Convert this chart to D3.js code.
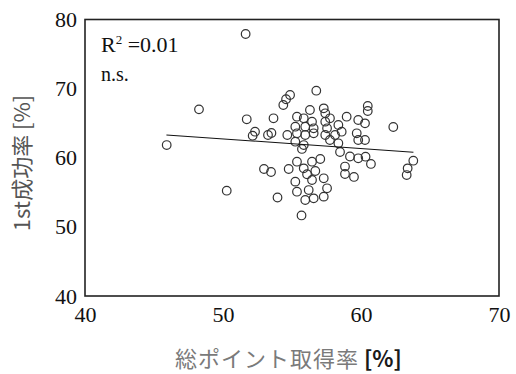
<!DOCTYPE html>
<html>
<head>
<meta charset="utf-8">
<script src="https://cdn.jsdelivr.net/npm/d3@7"></script>
<style>
  body { margin: 0; background: #fff; }
  svg { display: block; }
</style>
</head>
<body>
<div id="chart"></div>
<script>

// Data

const xTicks = [ 40, 50, 60, 70 ];
const yTicks = [ 40, 50, 60, 70, 80 ];

// 総ポイント取得率 [%]
const pointRate = [
  51.64, 48.26, 45.92, 50.27, 51.72, 53.66, 52.32, 52.15, 53.26, 53.51,
  54.37, 54.57, 54.86, 56.76, 55.36, 56.30, 57.30, 57.41, 55.85, 56.45,
  55.24, 55.96, 56.57, 57.41, 57.54, 54.66, 55.36, 55.96, 56.57, 57.41,
  55.24, 55.85, 60.49, 60.49, 58.96, 59.80, 60.29, 58.36, 58.12, 58.60,
  59.69, 59.80, 60.29, 62.34, 57.75, 58.36, 57.75, 55.72, 52.97, 53.48,
  55.36, 56.45, 57.05, 54.76, 55.85, 56.09, 56.69, 55.24, 56.45, 57.30,
  55.36, 56.21, 57.54, 55.96, 56.57, 57.30, 53.95, 55.69, 58.48, 59.20,
  59.80, 60.33, 60.72, 58.84, 58.84, 59.49, 63.79, 63.38, 63.31
];

// 1st成功率 [%]
const firstRate = [
  77.90, 67.00, 61.84, 55.23, 65.56, 65.71, 63.77, 63.19, 63.29, 63.58,
  67.63, 68.46, 69.08, 69.70, 65.94, 66.91, 67.15, 66.43, 65.71, 65.22,
  64.49, 64.49, 64.26, 65.22, 64.26, 63.29, 63.54, 63.29, 63.54, 63.29,
  62.32, 61.84, 67.49, 66.76, 65.94, 65.46, 64.98, 64.74, 63.29, 63.77,
  63.54, 62.57, 62.57, 64.45, 62.57, 62.09, 65.71, 61.27, 58.37, 57.94,
  59.43, 59.43, 59.82, 58.37, 58.47, 57.61, 58.08, 56.54, 56.78, 57.03,
  55.09, 55.33, 55.58, 53.89, 54.13, 54.37, 54.25, 51.65, 60.83, 60.18,
  59.92, 60.15, 59.10, 58.73, 57.65, 57.22, 59.57, 58.47, 57.50
];

// regression line as drawn
const fitX = [ 45.9, 63.8 ];
const fitY = [ 63.3, 60.8 ];

const width = 516,
      height = 374;

const plot = { left: 85, right: 499, top: 19.5, bottom: 296 };

const serif = "'Liberation Serif', 'Times New Roman', serif";
const cjk = "'Noto Sans CJK JP', 'Noto Sans', sans-serif";

const svg = d3.select( "#chart" ).append( "svg" )
  .attr( "width", width )
  .attr( "height", height );

const x = d3.scaleLinear()
  .domain( [ 40, 70 ] )
  .range( [ plot.left, plot.right ] );

const y = d3.scaleLinear()
  .domain( [ 40, 80 ] )
  .range( [ plot.bottom, plot.top ] );

// Axes (labels only, no tick marks)

const xAxis = svg.append( "g" )
  .attr( "transform", "translate(0," + plot.bottom + ")" )
  .call( d3.axisBottom( x ).tickValues( xTicks ).tickSize( 0 ).tickPadding( 10 ) );

const yAxis = svg.append( "g" )
  .attr( "transform", "translate(" + plot.left + ",0)" )
  .call( d3.axisLeft( y ).tickValues( yTicks ).tickSize( 0 ).tickPadding( 8 ) );

[ xAxis, yAxis ].forEach( a => {
  a.select( ".domain" ).remove();
  a.selectAll( "text" )
    .style( "font-family", serif )
    .style( "font-size", "22px" )
    .attr( "fill", "#111" );
} );

// Points

svg.selectAll( "circle.pt" )
  .data( pointRate.map( ( v, i ) => [ v, firstRate[ i ] ] ) )
  .enter().append( "circle" )
    .attr( "class", "pt" )
    .attr( "cx", d => x( d[ 0 ] ) )
    .attr( "cy", d => y( d[ 1 ] ) )
    .attr( "r", 4.3 )
    .attr( "fill", "none" )
    .attr( "stroke", "#333" )
    .attr( "stroke-width", 1.2 );

// Fit line

svg.append( "line" )
  .attr( "x1", x( fitX[ 0 ] ) )
  .attr( "y1", y( fitY[ 0 ] ) )
  .attr( "x2", x( fitX[ 1 ] ) )
  .attr( "y2", y( fitY[ 1 ] ) )
  .attr( "stroke", "#111" )
  .attr( "stroke-width", 1.1 );

// Frame

svg.append( "rect" )
  .attr( "x", plot.left )
  .attr( "y", plot.top )
  .attr( "width", plot.right - plot.left )
  .attr( "height", plot.bottom - plot.top )
  .attr( "fill", "none" )
  .attr( "stroke", "#222" )
  .attr( "stroke-width", 1.6 );

// Annotations

const r2 = svg.append( "text" )
  .attr( "x", 101 )
  .attr( "y", 52 )
  .style( "font-family", serif )
  .style( "font-size", "22px" )
  .attr( "fill", "#111" );

r2.append( "tspan" ).text( "R" );
r2.append( "tspan" )
  .attr( "dy", -8 )
  .style( "font-size", "13px" )
  .text( "2" );
r2.append( "tspan" )
  .attr( "dy", 8 )
  .text( " =0.01" );

svg.append( "text" )
  .attr( "x", 101 )
  .attr( "y", 81 )
  .style( "font-family", serif )
  .style( "font-size", "20px" )
  .attr( "fill", "#111" )
  .text( "n.s." );

// Axis titles

const xTitle = svg.append( "text" )
  .attr( "x", 175 )
  .attr( "y", 367 )
  .style( "font-family", cjk )
  .style( "font-size", "22px" );

xTitle.append( "tspan" )
  .attr( "fill", "#7a7a7a" )
  .style( "letter-spacing", "1px" )
  .text( "総ポイント取得率" );
xTitle.append( "tspan" )
  .attr( "fill", "#1a1a1a" )
  .style( "font-weight", "bold" )
  .text( " [%]" );

svg.append( "text" )
  .attr( "transform", "translate(30,163) rotate(-90)" )
  .attr( "text-anchor", "middle" )
  .style( "font-family", cjk )
  .style( "font-size", "22px" )
  .attr( "fill", "#555" )
  .text( "1st成功率 [%]" );

</script>
</body>
</html>
